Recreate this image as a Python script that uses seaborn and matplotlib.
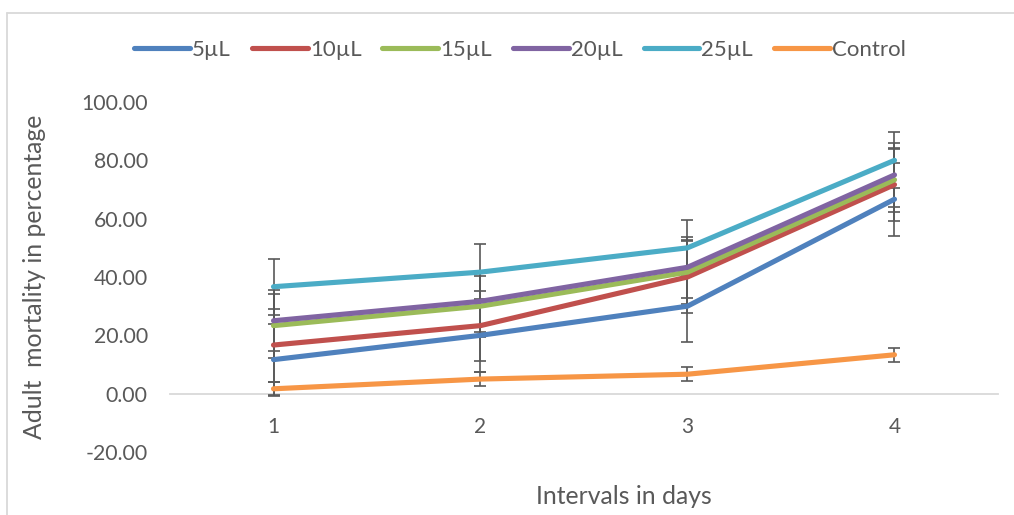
import numpy as np
import pandas as pd
import seaborn as sns
import matplotlib.pyplot as plt
from matplotlib.lines import Line2D

days = [1, 2, 3, 4]
series_names = ['5µL', '10µL', '15µL', '20µL', '25µL', 'Control']
val_5 = [11.67, 20.00, 30.00, 66.67]
val_10 = [16.67, 23.33, 40.00, 71.67]
val_15 = [23.33, 30.00, 41.67, 73.33]
val_20 = [25.00, 31.67, 43.33, 75.00]
val_25 = [36.67, 41.67, 50.00, 80.00]
val_ctrl = [1.67, 5.00, 6.67, 13.33]
err_5 = [12.3, 12.5, 12.2, 12.5]
err_10 = [12.5, 12.0, 12.3, 12.3]
err_15 = [11.0, 10.5, 11.0, 11.0]
err_20 = [10.5, 10.5, 10.5, 11.0]
err_25 = [9.6, 9.6, 9.6, 9.6]
err_ctrl = [2.2, 2.4, 2.4, 2.4]
colors = ['#4F81BD', '#C0504D', '#9BBB59', '#8064A2', '#4BACC6', '#F79646']

vals = [val_5, val_10, val_15, val_20, val_25, val_ctrl]
errs = [err_5, err_10, err_15, err_20, err_25, err_ctrl]

rows = []
for name, v, e in zip(series_names, vals, errs):
    for d, y, er in zip(days, v, e):
        rows.append({'day': d, 'mortality': y, 'err': er, 'series': name})
df = pd.DataFrame(rows)

sns.set_style('white')
plt.rcParams['font.family'] = ['Lato', 'DejaVu Sans']
txt = '#595959'

fig = plt.figure(figsize=(10.14, 5.15), dpi=100)
ax = fig.add_axes([170 / 1014, 1 - 452 / 515, 828 / 1014, 350 / 515])

# error bars first so the lines sit on top
for name in series_names:
    sub = df[df['series'] == name]
    ax.errorbar(sub['day'], sub['mortality'], yerr=sub['err'], fmt='none',
                ecolor='#595959', elinewidth=1.2, capsize=4.3, capthick=1.2, zorder=2)

sns.lineplot(data=df, x='day', y='mortality', hue='series', hue_order=series_names,
             palette=colors, linewidth=3.7, ax=ax, legend=False, zorder=3,
             solid_capstyle='round')

ax.set_xlim(0.5, 4.5)
ax.set_ylim(-20, 100)
ax.set_xticks(days)
ax.set_yticks(np.arange(-20, 101, 20))
ax.set_yticklabels([f'{t:.2f}' for t in np.arange(-20, 101, 20)])
for s in ['top', 'right', 'left']:
    ax.spines[s].set_visible(False)
ax.spines['bottom'].set_position(('data', 0))
ax.spines['bottom'].set_color('#D9D9D9')
ax.spines['bottom'].set_linewidth(1.3)
ax.spines['bottom'].set_zorder(1)
ax.tick_params(axis='x', length=0, pad=17, labelsize=15, labelcolor=txt)
ax.tick_params(axis='y', length=0, pad=16, labelsize=15.3, labelcolor=txt)
ax.set_xlabel('')
ax.set_ylabel('')

fig.text(624 / 1014, 1 - 497 / 515, 'Intervals in days', ha='center', va='center',
         fontsize=17.8, color=txt)
fig.text(35 / 1014, 1 - 277 / 515, 'Adult  mortality in percentage', ha='center',
         va='center', rotation=90, fontsize=17.8, color=txt)

handles = [Line2D([0], [0], color=c, lw=3.7, solid_capstyle='round') for c in colors]
fig.legend(handles, series_names, loc='center', bbox_to_anchor=(520 / 1014, 1 - 50 / 515),
           ncol=6, frameon=False, fontsize=16, labelcolor=txt, handlelength=2.5,
           handletextpad=0.1, columnspacing=0.95)

# chart border (partially cropped in the reference)
fig.add_artist(Line2D([7 / 1014, 7 / 1014], [0, 1 - 13 / 515], color='#D9D9D9', lw=1.3,
                      transform=fig.transFigure))
fig.add_artist(Line2D([7 / 1014, 1], [1 - 13 / 515, 1 - 13 / 515], color='#D9D9D9', lw=1.3,
                      transform=fig.transFigure))

fig.savefig('out.png', dpi=100, facecolor='white')
